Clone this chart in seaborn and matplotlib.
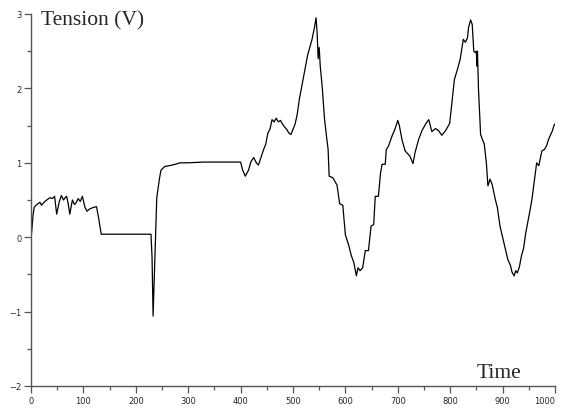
import numpy as np
import pandas as pd
from matplotlib import pyplot as plt
from matplotlib.ticker import MultipleLocator
import seaborn as sns

sns.set_style("ticks")
plt.rcParams['font.family'] = ['DejaVu Sans']

# Signal -----------------------------------------------------------------------
time = [0, 1, 4, 6, 11, 17, 20, 25, 30, 36, 41, 45, 49, 54, 58, 62, 65, 68, 71, 74,
        79, 83, 86, 90, 94, 98, 103, 107, 112, 119, 125, 129, 134, 229, 231, 233,
        235, 240, 245, 248, 255, 270, 285, 300, 330, 400, 404, 409, 415, 420, 425,
        430, 434, 441, 444, 448, 452, 456, 460, 464, 468, 472, 476, 480, 484, 488,
        492, 496, 500, 504, 508, 512, 516, 520, 524, 528, 532, 536, 539, 541, 544,
        546, 548, 550, 552, 556, 560, 564, 567, 569, 576, 584, 589, 595, 600, 606,
        611, 616, 621, 624, 628, 633, 638, 644, 649, 654, 657, 663, 667, 670, 676,
        678, 682, 689, 695, 700, 703, 708, 714, 723, 729, 733, 740, 746, 753, 759,
        765, 772, 778, 784, 791, 799, 804, 808, 814, 819, 825, 829, 833, 835, 839,
        842, 845, 848, 850, 851, 852, 854, 858, 865, 869, 872, 876, 880, 886, 890,
        895, 900, 905, 910, 915, 918, 922, 925, 928, 932, 936, 940, 944, 948, 952,
        956, 959, 965, 969, 975, 980, 984, 988, 995, 999]
tension = [0.0, 0.05, 0.30, 0.40, 0.44, 0.47, 0.43, 0.47, 0.50, 0.53, 0.52, 0.55,
           0.31, 0.48, 0.56, 0.50, 0.53, 0.55, 0.45, 0.31, 0.50, 0.44, 0.46, 0.52,
           0.48, 0.55, 0.40, 0.35, 0.38, 0.40, 0.41, 0.26, 0.04, 0.04, -0.27, -1.06,
           -0.60, 0.53, 0.78, 0.90, 0.95, 0.97, 1.00, 1.00, 1.01, 1.01, 0.90, 0.82,
           0.90, 1.02, 1.07, 1.00, 0.97, 1.12, 1.18, 1.25, 1.40, 1.45, 1.58, 1.55,
           1.60, 1.55, 1.57, 1.52, 1.48, 1.45, 1.40, 1.38, 1.45, 1.52, 1.65, 1.85,
           2.00, 2.15, 2.30, 2.45, 2.55, 2.65, 2.75, 2.82, 2.95, 2.75, 2.40, 2.55,
           2.30, 2.00, 1.60, 1.35, 1.18, 0.82, 0.80, 0.70, 0.45, 0.43, 0.03, -0.10,
           -0.24, -0.34, -0.52, -0.41, -0.45, -0.41, -0.18, -0.18, 0.15, 0.17, 0.55,
           0.55, 0.86, 0.98, 0.98, 1.18, 1.22, 1.36, 1.46, 1.57, 1.50, 1.31, 1.16,
           1.09, 0.99, 1.14, 1.32, 1.43, 1.52, 1.58, 1.42, 1.46, 1.43, 1.37, 1.43,
           1.53, 1.86, 2.12, 2.26, 2.39, 2.66, 2.62, 2.68, 2.82, 2.92, 2.86, 2.50,
           2.48, 2.50, 2.30, 2.50, 1.99, 1.38, 1.25, 1.00, 0.69, 0.78, 0.71, 0.51,
           0.40, 0.15, 0.00, -0.15, -0.30, -0.38, -0.47, -0.52, -0.45, -0.48, -0.40,
           -0.25, -0.15, 0.05, 0.20, 0.35, 0.51, 0.67, 1.00, 0.96, 1.16, 1.18, 1.23,
           1.32, 1.43, 1.52]

x_ticks = [0, 100, 200, 300, 400, 500, 600, 700, 800, 900, 1000]

df = pd.DataFrame({"Time": time, "Tension": tension})

# Plot --------------------------------------------------------------------------
fig = plt.figure(figsize=(5.62, 4.10), dpi=100)
ax = fig.add_axes([31/562, 1 - 387/410, 524/562, 372/410])

sns.lineplot(data=df, x="Time", y="Tension", estimator=None, sort=False,
             color="black", linewidth=0.9, ax=ax)

ax.set_xlim(0, 1000)
ax.set_ylim(-2, 3)
ax.set_xticks(x_ticks, [str(t) for t in x_ticks])
ax.xaxis.set_minor_locator(MultipleLocator(50))
ax.yaxis.set_major_locator(MultipleLocator(1))
ax.yaxis.set_minor_locator(MultipleLocator(0.5))

for s in ["top", "right"]:
    ax.spines[s].set_visible(False)
for s in ["left", "bottom"]:
    ax.spines[s].set_color("#555555")
    ax.spines[s].set_linewidth(1.0)

ax.tick_params(which="major", length=5, width=0.9, color="#555555",
               labelsize=6, pad=2)
ax.tick_params(which="minor", length=3, width=0.9, color="#555555")

# keep "1000" inside the picture
ax.xaxis.get_major_ticks()[-1].label1.set_horizontalalignment("right")
ax.xaxis.get_major_ticks()[-1].label1.set_x(1004)

ax.set_xlabel("Time", family="Liberation Serif", fontsize=15.5, ha="left",
              va="baseline")
ax.xaxis.set_label_coords((477 - 31) / 524, (387 - 378) / 372)
ax.set_ylabel("Tension (V)", family="Liberation Serif", fontsize=15.5,
              rotation=0, ha="left", va="baseline")
ax.yaxis.set_label_coords((41 - 31) / 524, (387 - 25) / 372)

fig.savefig("out.png", dpi=100)
